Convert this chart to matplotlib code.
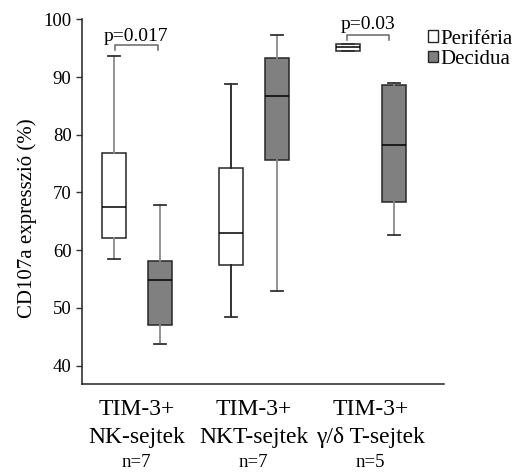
import matplotlib.pyplot as plt
from matplotlib.patches import Patch
from matplotlib.transforms import blended_transform_factory

plt.rcParams['font.family'] = ['Liberation Serif', 'DejaVu Serif']

groups = ['TIM-3+\nNK-sejtek', 'TIM-3+\nNKT-sejtek', 'TIM-3+\nγ/δ T-sejtek']
n_labels = ['n=7', 'n=7', 'n=5']

# five-number summaries: low whisker, q1, median, q3, high whisker
periferia = [
    [58.5, 62.1, 67.4, 76.8, 93.7],
    [48.4, 57.5, 63.0, 74.2, 88.8],
    [94.55, 94.55, 95.2, 95.7, 95.7],
]
decidua = [
    [43.7, 47.0, 54.8, 58.1, 67.9],
    [52.9, 75.6, 86.7, 93.3, 97.3],
    [62.6, 68.4, 78.2, 88.6, 88.9],
]
p_values = ['p=0.017', None, 'p=0.03']

WHITE = 'white'
GRAY = '#808080'
EDGE = '#262626'


def to_stats(rows):
    out = []
    for lo, q1, med, q3, hi in rows:
        out.append(dict(whislo=lo, q1=q1, med=med, q3=q3, whishi=hi, fliers=[]))
    return out


fig = plt.figure(figsize=(5.14, 4.73), dpi=100)
ax = fig.add_axes([0.1595, 0.1882, 0.7043, 0.7710])

centers = [1, 2, 3]
off = 0.197
bw = 0.205

for stats, shift, face in [(periferia, -off, WHITE), (decidua, off, GRAY)]:
    pos = [c + shift for c in centers]
    bp = ax.bxp(to_stats(stats), positions=pos, widths=bw, patch_artist=True,
                showfliers=False, capwidths=bw / 2, manage_ticks=False)
    for b in bp['boxes']:
        b.set_facecolor(face)
        b.set_edgecolor(EDGE)
        b.set_linewidth(1.1)
    for m in bp['medians']:
        m.set_color('black')
        m.set_linewidth(1.1)
    for i, w in enumerate(bp['whiskers']):
        w.set_color('#222222' if (face == WHITE and i // 2 == 1) else '#8a8a8a')
        w.set_linewidth(1.3)
    for c in bp['caps']:
        c.set_color('#333333')
        c.set_linewidth(1.3)

# significance brackets
brackets = [(0.814, 1.179, 95.55, 94.7, 0.99, 96.3), None, (2.80, 3.157, 97.33, 96.42, 2.978, 98.35)]
for p, br in zip(p_values, brackets):
    if p is None:
        continue
    x0, x1, y, yend, tx, ty = br
    ax.plot([x0, x0, x1, x1], [yend, y, y, yend], color='#666666', lw=1.1, clip_on=False)
    ax.text(tx, ty, p, ha='center', va='baseline', fontsize=14, clip_on=False)

ax.set_xlim(0.532, 3.626)
ax.set_ylim(36.8, 100)
ax.set_yticks([40, 50, 60, 70, 80, 90, 100])
ax.tick_params(axis='y', labelsize=13.5, length=4, width=1, pad=3.5, color='#333333')
ax.set_xticks(centers)
ax.set_xticklabels(groups, fontsize=17, linespacing=1.45)
ax.tick_params(axis='x', length=0, pad=10.5)

trans = blended_transform_factory(ax.transData, ax.transAxes)
for c, n in zip(centers, n_labels):
    ax.text(c, -0.229, n, transform=trans, ha='center', va='baseline', fontsize=13.5)

for s in ['top', 'right']:
    ax.spines[s].set_visible(False)
for s in ['left', 'bottom']:
    ax.spines[s].set_linewidth(1.1)
    ax.spines[s].set_color('#222222')

ax.set_ylabel('CD107a expresszió (%)', fontsize=15)
ax.yaxis.set_label_coords(-0.125, 0.455)

handles = [Patch(facecolor=WHITE, edgecolor=EDGE, label='Periféria'),
           Patch(facecolor=GRAY, edgecolor=EDGE, label='Decidua')]
fig.legend(handles=handles, loc='upper left', bbox_to_anchor=(0.832, 0.937),
           frameon=False, fontsize=15, handlelength=0.5, handleheight=0.5,
           handletextpad=0.12, labelspacing=0.05, borderpad=0, borderaxespad=0)

fig.savefig('out.png', dpi=100)
